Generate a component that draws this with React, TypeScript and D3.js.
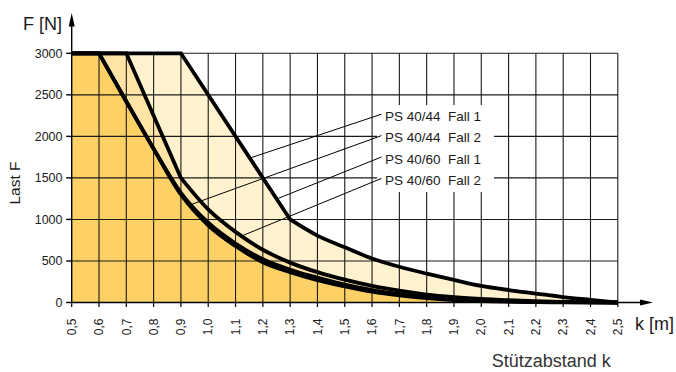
import React from 'react';
import * as d3 from 'd3';

const W = 676;
const H = 372;

// Axis ticks
const xTicks = [0.5, 0.6, 0.7, 0.8, 0.9, 1.0, 1.1, 1.2, 1.3, 1.4, 1.5, 1.6, 1.7, 1.8, 1.9, 2.0, 2.1, 2.2, 2.3, 2.4, 2.5];
const xTickLabels = ['0,5', '0,6', '0,7', '0,8', '0,9', '1,0', '1,1', '1,2', '1,3', '1,4', '1,5', '1,6', '1,7', '1,8', '1,9', '2,0', '2,1', '2,2', '2,3', '2,4', '2,5'];
const yTicks = [0, 500, 1000, 1500, 2000, 2500, 3000];

// PS 40/44 Fall 1
const a44f1Linear: [number, number][] = [[0.5, 3000], [0.9, 3000], [1.3, 1000]];
const a44f1Tail: [number, number][] = [[1.3, 1000], [1.4, 805], [1.5, 665], [1.6, 530], [1.7, 430], [1.8, 348], [1.9, 272], [2.0, 200], [2.1, 150], [2.2, 108], [2.3, 66], [2.4, 32], [2.5, 0]];
// PS 40/44 Fall 2
const b44f2Linear: [number, number][] = [[0.5, 3000], [0.7, 3000], [0.9, 1500]];
const b44f2Tail: [number, number][] = [[0.9, 1500], [1.0, 1120], [1.1, 850], [1.2, 635], [1.3, 480], [1.4, 365], [1.5, 275], [1.6, 200], [1.7, 142], [1.8, 96], [1.9, 65], [2.0, 42], [2.1, 27], [2.2, 16], [2.3, 8], [2.4, 3], [2.5, 0]];
// PS 40/60 Fall 1
const c60f1Linear: [number, number][] = [[0.5, 3000], [0.6, 3000]];
const c60f1Tail: [number, number][] = [[0.6, 3000], [0.7, 2420], [0.8, 1850], [0.9, 1320], [1.0, 960], [1.1, 710], [1.2, 520], [1.3, 395], [1.4, 300], [1.5, 215], [1.6, 150], [1.7, 100], [1.8, 65], [1.9, 40], [2.0, 25], [2.1, 15], [2.2, 8], [2.3, 4], [2.4, 1], [2.5, 0]];
// PS 40/60 Fall 2
const d60f2Linear: [number, number][] = [[0.5, 3000], [0.6, 3000]];
const d60f2Tail: [number, number][] = [[0.6, 3000], [0.7, 2420], [0.8, 1850], [0.9, 1300], [1.0, 930], [1.1, 680], [1.2, 485], [1.3, 365], [1.4, 270], [1.5, 195], [1.6, 130], [1.7, 85], [1.8, 52], [1.9, 30], [2.0, 18], [2.1, 10], [2.2, 5], [2.3, 2], [2.4, 1], [2.5, 0]];

const legendLabels = ['PS 40/44  Fall 1', 'PS 40/44  Fall 2', 'PS 40/60  Fall 1', 'PS 40/60  Fall 2'];
const leaderTargets: [number, number][] = [[1.152, 1738], [0.933, 1174], [1.251, 1246], [1.116, 792]];

const COLOR_ORANGE = '#FDD166';
const COLOR_PEACH = '#FFE4A6';
const COLOR_CREAM = '#FFF2CE';

const FONT = '"Liberation Sans", Arial, Helvetica, sans-serif';

const xScale = d3.scaleLinear().domain([0.5, 2.5]).range([71.7, 617.8]);
const yScale = d3.scaleLinear().domain([0, 3000]).range([302.5, 53.3]);

const linGen = d3.line<[number, number]>().x(d => xScale(d[0])).y(d => yScale(d[1]));
const tailGen = d3.line<[number, number]>().x(d => xScale(d[0])).y(d => yScale(d[1])).curve(d3.curveMonotoneX);

function curvePath(lin: [number, number][], tail: [number, number][]) {
  return (linGen(lin) || '') + (tailGen(tail) || '').replace(/^M/, 'L');
}
function areaPath(lin: [number, number][], tail: [number, number][]) {
  return curvePath(lin, tail) + `L${xScale(2.5)},${yScale(0)}L${xScale(0.5)},${yScale(0)}Z`;
}

const series = [
  { lin: a44f1Linear, tail: a44f1Tail, fill: COLOR_CREAM },
  { lin: b44f2Linear, tail: b44f2Tail, fill: COLOR_PEACH },
  { lin: c60f1Linear, tail: c60f1Tail, fill: COLOR_PEACH },
  { lin: d60f2Linear, tail: d60f2Tail, fill: COLOR_ORANGE },
];

export default function App() {
  const x0 = xScale(0.5);
  const y0 = yScale(0);
  const labelX = 385;
  const labelCenters = legendLabels.map((_, i) => 115.7 + i * 21.4);
  return (
    <svg width={W} height={H} style={{ position: 'absolute', left: 0, top: 0, background: '#fff' }} fontFamily={FONT}>
      <rect x={0} y={0} width={W} height={H} fill="#fff" />
      {/* fills */}
      {series.map((s, i) => (
        <path key={'f' + i} d={areaPath(s.lin, s.tail)} fill={s.fill} stroke="none" />
      ))}
      {/* grid */}
      {xTicks.slice(1).map(t => (
        <line key={'gx' + t} x1={xScale(t)} x2={xScale(t)} y1={y0} y2={yScale(3000)} stroke="#1a1a1a" strokeWidth={1.1} />
      ))}
      {yTicks.slice(1).map(t => (
        <line key={'gy' + t} x1={x0} x2={xScale(2.5)} y1={yScale(t)} y2={yScale(t)} stroke="#1a1a1a" strokeWidth={1.1} />
      ))}
      {/* label box */}
      <rect x={377} y={105} width={117} height={87} fill="#fff" />
      {/* leader lines */}
      {leaderTargets.map((p, i) => (
        <line key={'ld' + i} x1={381.5} y1={labelCenters[i] - 1.5} x2={xScale(p[0])} y2={yScale(p[1])} stroke="#000" strokeWidth={1} />
      ))}
      {legendLabels.map((t, i) => (
        <text key={'lb' + i} x={labelX} y={labelCenters[i] + 5} fontSize={13.5} fill="#1a1a1a" style={{ whiteSpace: 'pre' }}>{t}</text>
      ))}
      {/* curves */}
      {series.map((s, i) => (
        <path key={'c' + i} d={curvePath(s.lin, s.tail)} fill="none" stroke="#000" strokeWidth={3.8} strokeLinejoin="miter" />
      ))}
      {/* axes */}
      <line x1={x0} x2={x0} y1={y0 + 0.5} y2={22} stroke="#000" strokeWidth={1.4} />
      <polygon points={`${x0},13 ${x0 - 3},26.5 ${x0 + 3},26.5`} fill="#000" />
      <line x1={x0} x2={644} y1={y0} y2={y0} stroke="#000" strokeWidth={1.6} />
      <polygon points={`653,${y0} 640,${y0 - 3} 640,${y0 + 3}`} fill="#000" />
      {yTicks.map(t => (
        <g key={'yt' + t}>
          <line x1={x0 - 5.5} x2={x0} y1={yScale(t)} y2={yScale(t)} stroke="#000" strokeWidth={1.4} />
          <text x={62.5} y={yScale(t)} dy="0.35em" textAnchor="end" fontSize={12.5} fill="#1a1a1a">{t}</text>
        </g>
      ))}
      {xTicks.map((t, i) => (
        <g key={'xt' + t}>
          <line x1={xScale(t)} x2={xScale(t)} y1={y0} y2={y0 + 4.5} stroke="#000" strokeWidth={1.2} />
          <text transform={`translate(${xScale(t) + 4.2},318.5) rotate(-90)`} textAnchor="end" fontSize={12} fill="#1a1a1a">{xTickLabels[i]}</text>
        </g>
      ))}
      {/* titles */}
      <text x={62} y={29.5} textAnchor="end" fontSize={18} fill="#1a1a1a">F [N]</text>
      <text transform="translate(20,183) rotate(-90)" textAnchor="middle" fontSize={15.5} fill="#1a1a1a">Last F</text>
      <text x={635} y={330} fontSize={18} fill="#1a1a1a">k [m]</text>
      <text x={491.7} y={367} fontSize={18} fill="#333">Stützabstand k</text>
    </svg>
  );
}
